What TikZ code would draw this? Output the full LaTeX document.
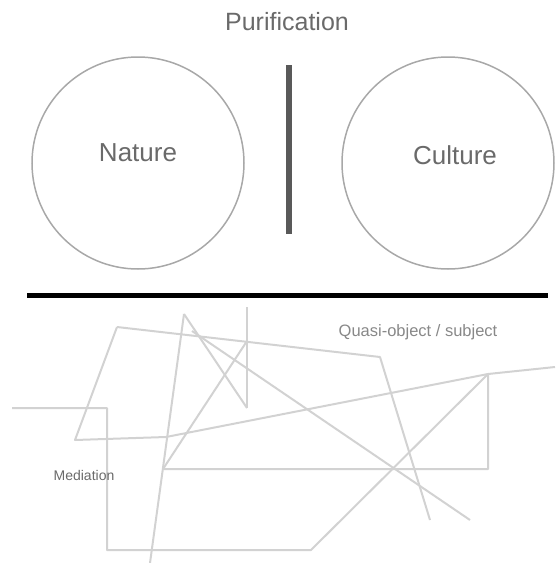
\documentclass[tikz,border=0pt]{standalone}
\usepackage{fontspec}
\setmainfont{Liberation Sans}
\usetikzlibrary{positioning}

\definecolor{ringgray}{HTML}{A8A8A8}
\definecolor{netgray}{HTML}{D2D2D2}
\definecolor{labelgray}{HTML}{6A6A6A}

\tikzset{
  sphere/.style={draw=ringgray,line width=1.5pt,circle,minimum size=212pt,inner sep=0pt},
  bigtext/.style={text=labelgray,font=\fontsize{26}{30}\selectfont},
  net/.style={draw=netgray,line width=2pt,line join=round}
}

\begin{document}
\begin{tikzpicture}[x=1pt,y=-1pt]
\useasboundingbox (0,0) rectangle (555,563);
\node[text=labelgray,font=\fontsize{25}{30}\selectfont] (purif) at (287,22) {Purification};
\node[sphere] (nature) at (138,163) {};
\node[sphere] (culture) at (448,163) {};
\node[bigtext] (naturetxt) at (138,153) {Nature};
\node[bigtext] (culturetxt) at (455,155) {Culture};
\coordinate (bartop) at (289,65);
\coordinate (barbot) at (289,234);
\draw[draw=black!65,line width=6pt] (bartop) -- (barbot);
\coordinate (divl) at (27,295);
\coordinate (divr) at (548,295);
\draw[line width=5pt] (divl) -- (divr);

% network of mediations
\coordinate (a1) at (12,408);
\coordinate (a2) at (107,408);
\coordinate (a3) at (107,550);
\coordinate (a4) at (311,550);
\coordinate (hub) at (488,374);
\coordinate (a5) at (555,367);
\coordinate (b1) at (117,327);
\coordinate (b2) at (380,357);
\coordinate (b3) at (430,520);
\coordinate (c1) at (75,440);
\coordinate (c2) at (166,437);
\coordinate (c3) at (488,469);
\coordinate (c4) at (163,469);
\coordinate (c5) at (247,341);
\coordinate (d1) at (184,314);
\coordinate (d2) at (150,563);
\coordinate (d3) at (247,408);
\coordinate (d4) at (247,307);
\coordinate (e1) at (192,331);
\coordinate (e2) at (470,520);
\draw[net] (a1) -- (a2) -- (a3) -- (a4) -- (hub) -- (a5);
\draw[net] (b1) -- (b2) -- (b3);
\draw[net] (b1) -- (c1) -- (c2) -- (hub) -- (c3) -- (c4) -- (c5);
\draw[net] (d1) -- (d2);
\draw[net] (d1) -- (d3);
\draw[net] (d4) -- (d3);
\draw[net] (e1) -- (e2);

\node[text=labelgray!80,font=\fontsize{16.5}{20}\selectfont] (quasi) at (418,332) {Quasi-object / subject};
\node[text=labelgray,font=\fontsize{14}{17}\selectfont] (mediation) at (84,475) {Mediation};
\end{tikzpicture}
\end{document}
